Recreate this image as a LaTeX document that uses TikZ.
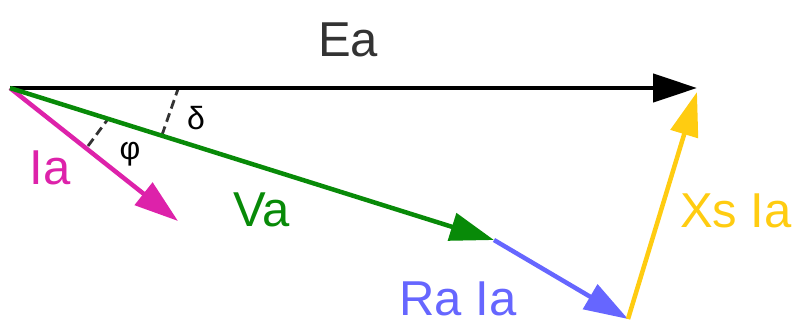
\documentclass[tikz,border=0pt]{standalone}
\usepackage{fontspec}
\setmainfont{Liberation Sans}
\usetikzlibrary{arrows.meta}
\definecolor{cEa}{HTML}{000000}
\definecolor{cTxt}{HTML}{333333}
\definecolor{cIa}{HTML}{DD22AA}
\definecolor{cVa}{HTML}{088A08}
\definecolor{cRa}{HTML}{6666FF}
\definecolor{cXs}{HTML}{FFCC11}
\definecolor{cDash}{HTML}{333333}
\tikzset{
  vec/.style={line width=4.5pt, -{Triangle[length=44pt,width=28pt]}},
  big/.style={font=\fontsize{49}{49}\selectfont, inner sep=0pt},
  small/.style={font=\fontsize{32}{32}\selectfont, inner sep=0pt},
  angl/.style={line width=2.8pt, dash pattern=on 9pt off 5pt, cDash}
}
\begin{document}
\begin{tikzpicture}[x=1pt,y=-1pt]
\useasboundingbox (0,0) rectangle (800,325);
\coordinate (O) at (10,88);
\coordinate (E) at (697,88);
\coordinate (V) at (494,240);
\coordinate (R) at (628,319);
\coordinate (X) at (697,92);
\coordinate (I) at (178,221);
\coordinate (d1) at (162,135);
\coordinate (d2) at (178,89);
\coordinate (p1) at (88,146);
\coordinate (p2) at (108,119);
\draw[angl] (d1) -- (d2);
\draw[angl] (p1) -- (p2);
\draw[vec, cEa] (O) -- (E);
\draw[vec, cIa] (O) -- (I);
\draw[vec, cVa] (O) -- (V);
\draw[vec, cRa] (V) -- (R);
\draw[vec, cXs] (R) -- (X);
\node[big, text=cTxt] (lEa) at (348,40) {Ea};
\node[big, text=cIa] (lIa) at (50,168) {Ia};
\node[big, text=cVa] (lVa) at (262,210) {Va};
\node[big, text=cRa] (lRa) at (458,299) {Ra Ia};
\node[big, text=cXs] (lXs) at (736,211) {Xs Ia};
\node[small, text=black] (lphi) at (130,154) {φ};
\node[small, text=black] (ldelta) at (196,118) {δ};
\end{tikzpicture}
\end{document}
